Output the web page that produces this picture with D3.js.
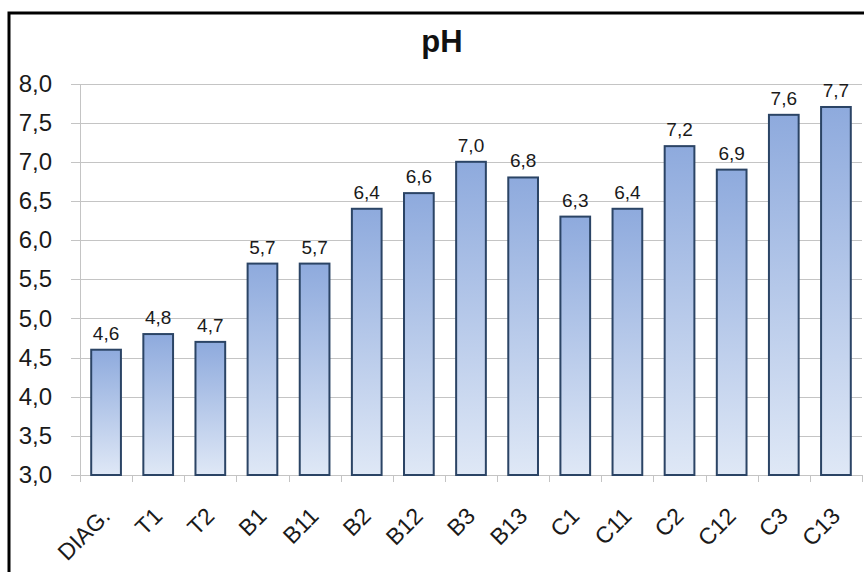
<!DOCTYPE html>
<html>
<head>
<meta charset="utf-8">
<script src="https://cdn.jsdelivr.net/npm/d3@7"></script>
<style>
  html, body { margin: 0; padding: 0; background: #fff; }
  svg { display: block; font-family: "Liberation Sans", Arial, sans-serif; }
</style>
</head>
<body>
<svg id="chart" width="864" height="572"></svg>
<script>
// pH per sample
const categories = ["DIAG.", "T1", "T2", "B1", "B11", "B2", "B12", "B3", "B13", "C1", "C11", "C2", "C12", "C3", "C13"];
const phValues = [4.6, 4.8, 4.7, 5.7, 5.7, 6.4, 6.6, 7.0, 6.8, 6.3, 6.4, 7.2, 6.9, 7.6, 7.7];
const yTicks = [3.0, 3.5, 4.0, 4.5, 5.0, 5.5, 6.0, 6.5, 7.0, 7.5, 8.0];
const chartTitle = "pH";

const svg = d3.select("#chart");
const fmt = v => d3.format(".1f")(v).replace(".", ",");

const plotLeft = 80, plotRight = 862, plotTop = 83.5, plotBottom = 475;

const x = d3.scaleBand().domain(categories).range([plotLeft, plotRight]).paddingInner(0.43).paddingOuter(0.215);
const xTickScale = d3.scaleBand().domain(categories).range([plotLeft, plotRight]);
const y = d3.scaleLinear().domain([3, 8]).range([plotBottom, plotTop]);

// bar gradient
const defs = svg.append("defs");
const grad = defs.append("linearGradient").attr("id", "barGrad")
  .attr("x1", 0).attr("y1", 0).attr("x2", 0).attr("y2", 1);
grad.append("stop").attr("offset", "0%").attr("stop-color", "#8eaadd");
grad.append("stop").attr("offset", "100%").attr("stop-color", "#dfe8f6");

// outer frame
svg.append("path")
  .attr("d", `M9,572 L9,13 L864,13`)
  .attr("fill", "none").attr("stroke", "#000").attr("stroke-width", 3);

// title
svg.append("text")
  .attr("x", 442).attr("y", 52)
  .attr("text-anchor", "middle")
  .attr("font-size", 31).attr("font-weight", "bold").attr("fill", "#111")
  .text(chartTitle);

// horizontal gridlines
svg.append("g").selectAll("line").data(yTicks).join("line")
  .attr("x1", plotLeft - 9).attr("x2", plotRight)
  .attr("y1", d => Math.round(y(d)) + 0.5).attr("y2", d => Math.round(y(d)) + 0.5)
  .attr("stroke", "#c4c4c4").attr("stroke-width", 1);

// y axis
const yAxis = svg.append("g").attr("transform", `translate(${plotLeft},0)`)
  .call(d3.axisLeft(y).tickValues(yTicks).tickFormat(fmt).tickSize(0).tickPadding(28));
yAxis.select(".domain").attr("stroke", "#c4c4c4");
yAxis.selectAll("text").attr("font-size", 24).attr("fill", "#1a1a1a")
  .attr("font-family", "Liberation Sans, Arial, sans-serif");

// x axis line and ticks
const xAxisG = svg.append("g");
xAxisG.append("line").attr("x1", plotLeft).attr("x2", plotRight)
  .attr("y1", plotBottom + 0.5).attr("y2", plotBottom + 0.5)
  .attr("stroke", "#c4c4c4");
const tickPos = categories.map(c => xTickScale(c)).concat([plotRight]);
xAxisG.selectAll("line.tick").data(tickPos).join("line").attr("class", "tick")
  .attr("x1", d => Math.round(d) + 0.5).attr("x2", d => Math.round(d) + 0.5)
  .attr("y1", plotBottom).attr("y2", plotBottom + 7)
  .attr("stroke", "#c4c4c4");

// bars
svg.append("g").selectAll("rect").data(phValues).join("rect")
  .attr("x", (d, i) => x(categories[i]))
  .attr("width", x.bandwidth())
  .attr("y", d => y(d))
  .attr("height", d => y(3) - y(d))
  .attr("fill", "url(#barGrad)")
  .attr("stroke", "#2b4465").attr("stroke-width", 2);

// value labels
svg.append("g").selectAll("text").data(phValues).join("text")
  .attr("x", (d, i) => x(categories[i]) + x.bandwidth() / 2)
  .attr("y", d => y(d) - 10)
  .attr("text-anchor", "middle")
  .attr("font-size", 19).attr("fill", "#1a1a1a")
  .text(fmt);

// category labels
svg.append("g").selectAll("text").data(categories).join("text")
  .attr("transform", d => `translate(${x(d) + x.bandwidth() / 2 - 6},${plotBottom + 31}) rotate(-45)`)
  .attr("text-anchor", "end")
  .attr("dy", "0.71em")
  .attr("font-size", 23).attr("fill", "#1a1a1a")
  .text(d => d);
</script>
</body>
</html>
